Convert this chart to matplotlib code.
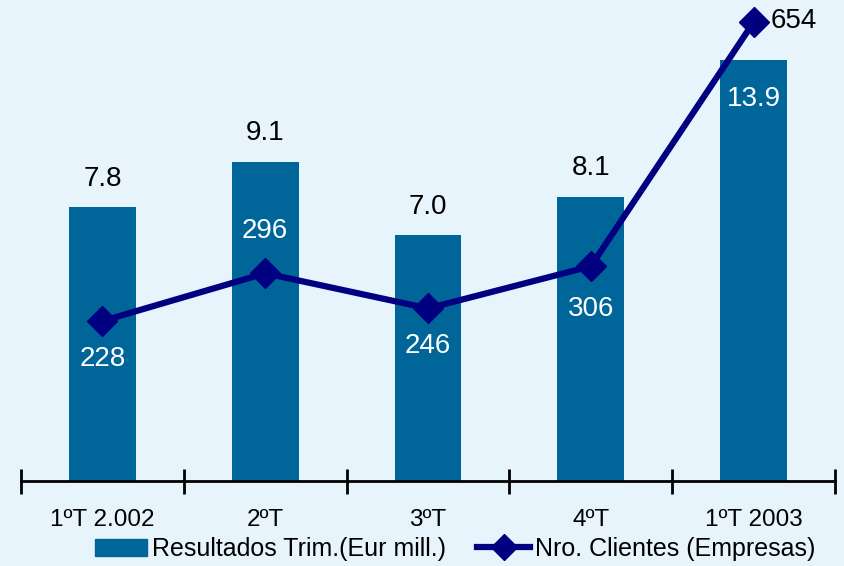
import matplotlib.pyplot as plt

# Datos del gráfico
trimestres = ["1ºT 2.002", "2ºT", "3ºT", "4ºT", "1ºT 2003"]
resultados = [7.8, 9.1, 7.0, 8.1, 13.9]
clientes = [228, 296, 246, 306, 654]

fondo = "#E8F4FC"
azul_barra = "#006699"
azul_linea = "#000080"
fuente = ["Liberation Sans", "DejaVu Sans"]
plt.rcParams["font.family"] = fuente

fig = plt.figure(figsize=(8.44, 5.66), dpi=100, facecolor=fondo)
ax = fig.add_axes([0.0249, 0.1502, 0.9645, 0.7438])
ax.set_facecolor(fondo)

x = list(range(len(trimestres)))
ax.bar(x, resultados, width=0.41, color=azul_barra, zorder=2)
ax.set_xlim(-0.5, len(trimestres) - 0.5)
ax.set_ylim(0, 12)

# Etiquetas de las barras
for i, v in enumerate(resultados):
    if v > 12:
        ax.text(i, 10.9, f"{v:.1f}", ha="center", va="center", color="white",
                fontsize=20, zorder=5)
    else:
        ax.text(i, v + 0.82, f"{v:.1f}", ha="center", va="center", color="black",
                fontsize=20, zorder=5)

# Eje X con marcas entre categorías
for s in ["top", "right", "left"]:
    ax.spines[s].set_visible(False)
ax.spines["bottom"].set_linewidth(2)
ax.set_yticks([])
ax.set_xticks([i - 0.5 for i in range(len(trimestres) + 1)])
ax.set_xticklabels([])
ax.tick_params(axis="x", which="major", direction="inout", length=18, width=2)
ax.set_xticks(x, minor=True)
ax.set_xticklabels(trimestres, minor=True, fontsize=17.5)
ax.tick_params(axis="x", which="minor", length=0, pad=20)

# Línea de clientes en eje secundario
ax2 = ax.twinx()
ax2.set_ylim(0, 600)
ax2.axis("off")
ax2.plot(x, clientes, color=azul_linea, lw=4.5, marker="D", markersize=15,
         clip_on=False, zorder=4)

offsets = [-38, 42, -38, -43]
for i, v in enumerate(clientes[:4]):
    ax2.annotate(str(v), (i, v), xytext=(0, offsets[i] * 0.72), textcoords="offset points",
                 ha="center", va="center", color="white", fontsize=20, zorder=5)
ax2.annotate(str(clientes[4]), (4, clientes[4]), xytext=(12, 1), textcoords="offset points",
             ha="left", va="center", color="black", fontsize=20,
             annotation_clip=False)

# Leyenda
h1 = plt.Rectangle((0, 0), 1, 1, color=azul_barra)
h2 = plt.Line2D([], [], color=azul_linea, lw=4.5, marker="D", markersize=13)
fig.legend([h1, h2], ["Resultados Trim.(Eur mill.)", "Nro. Clientes (Empresas)"],
           loc="center", bbox_to_anchor=(0.539, 0.03), ncol=2, frameon=False,
           fontsize=18, handlelength=2.1, handletextpad=0.2, columnspacing=1.25,
           borderpad=0)

fig.savefig("out.png", dpi=100, facecolor=fondo)
